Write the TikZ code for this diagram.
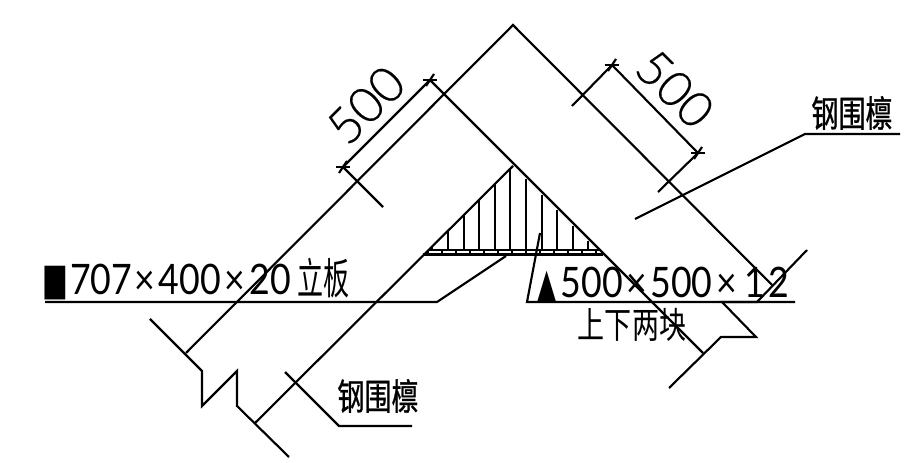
\documentclass[tikz,border=0pt]{standalone}
\usepackage{fontspec}
\usepackage{tikz}
\setmainfont{Lato}
\newfontfamily\thinfont[FakeBold=0.4]{Lato Light}
\newfontfamily\cjkfont{Noto Sans CJK SC}
\newfontfamily\cjkmedium[FakeBold=1]{Noto Sans CJK SC}
\newfontfamily\symfont{DejaVu Sans}
\tikzset{
	cadline/.style={black, line width=1.6pt, line join=miter},
	dimtext/.style={inner sep=0pt, font=\thinfont\fontsize{37}{37}\selectfont},
	notetext/.style={inner sep=0pt, font=\fontsize{31.5}{32}\selectfont, xscale=0.85},
	cjktext/.style={inner sep=0pt, font=\cjkfont\fontsize{26}{26}\selectfont, xscale=0.78, yscale=1.05},
	cjkbold/.style={cjktext, font=\cjkmedium\fontsize{26}{26}\selectfont}
}
\begin{document}
\begin{tikzpicture}[x=0.75pt, y=-0.75pt]
	\useasboundingbox (0, 0) rectangle (922, 463);
	% outer and inner edges of the purlins
	\draw[cadline] (186, 353)--(513, 25)--(772, 285);
	\draw[cadline] (430, 80)--(703, 353);
	\draw[cadline] (255, 423)--(513, 166);
	% break marks
	\draw[cadline] (150, 319)--(202, 371)--(202, 406)--(237, 371)--(237, 406)--(289, 457);
	\draw[cadline] (807, 250)--(757, 302)--(722, 302)--(756, 337)--(721, 337)--(669, 388);
	% plate below the triangle
	\draw[cadline] (428, 250)--(599, 250);
	\draw[cadline] (423, 254.5)--(603, 254.5);
	\foreach \x in {448, 463.6, 479.2, 494.8, 510.4} {
		\draw[cadline] (\x, 250)--(\x, 679-\x);
	}
	\foreach \x in {526, 541.6, 557.2, 572.8, 588.4} {
		\draw[cadline] (\x, 250)--(\x, \x-347);
	}
	\draw[cadline] (432, 250)--(432, 247);
	\foreach \x in {428, 442, 456, 470, 484, 498, 512, 526, 540, 554, 568, 582, 596} {
		\draw[cadline] (\x, 250)--(\x, 254.5);
	}
	% dimensions
	\draw[cadline] (343, 167)--(430, 80);
	\draw[cadline] (343, 167)--(383, 207);
	\draw[cadline] (612, 65)--(698, 153);
	\draw[cadline] (612, 65)--(572, 106);
	\draw[cadline] (698, 153)--(658, 192);
	\foreach \a/\b in {343/167, 430/80, 612/65, 698/153} {
		\draw[cadline] (\a-7, \b)--(\a+7, \b);
		\draw[cadline] (\a-4, \b+6)--(\a+4, \b-6);
	}
	\node[dimtext, rotate=45] (dimleft) at (366, 105) {500};
	\node[dimtext, rotate=-45] (dimright) at (675, 89) {500};
	% leaders
	\draw[cadline] (635, 219)--(805, 134)--(900, 134);
	\draw[cadline] (285, 372)--(339, 426)--(412, 426);
	\draw[cadline] (45, 302)--(437, 302)--(506, 256);
	\draw[cadline] (795, 302)--(527, 302)--(540, 233);
	% labels
	\node[cjkbold] (purlintop) at (852, 113) {钢围檩};
	\node[cjkbold] (purlinlow) at (378, 396) {钢围檩};
	\node[notetext, anchor=base west] (platelabel) at (42, 295) {{\symfont\scalebox{0.8}[1.1]{\fontsize{30}{30}\selectfont ■}}\hspace{2pt}707\hspace{2pt}×\hspace{3pt}400\hspace{3pt}×\hspace{4pt}20\hspace{6pt}{\cjkfont\scalebox{1}[1.4]{\fontsize{23}{23}\selectfont 立板}}};
	\node[notetext, anchor=base west] (gussetlabel) at (537, 298) {{\symfont\scalebox{1}[1.4]{\fontsize{22}{22}\selectfont ▲}}\hspace{4pt}500\hspace{3pt}×\hspace{3pt}500\hspace{3pt}×\hspace{7pt}1\hspace{3pt}2};
	\node[cjktext] (gussetnote) at (632, 325) {上下两块};
\end{tikzpicture}
\end{document}
